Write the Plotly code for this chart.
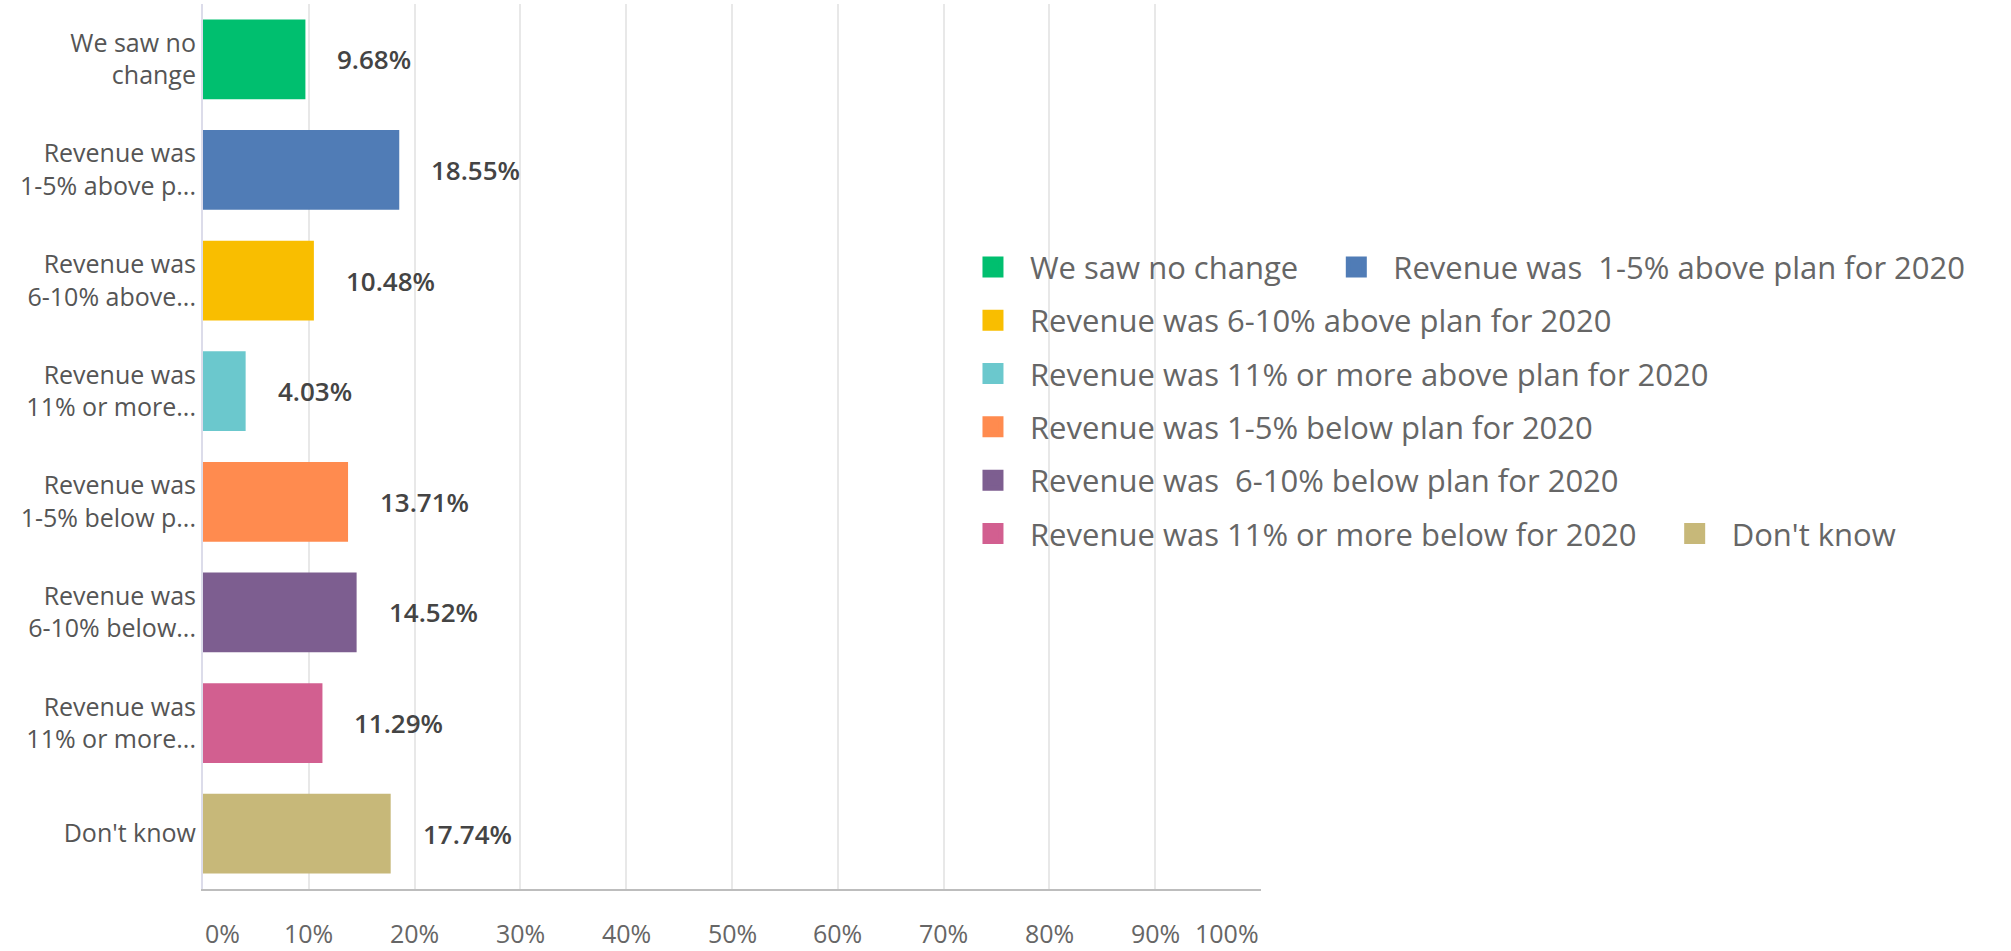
import plotly.graph_objects as go

# Survey answers, percentages and the palette used for each answer
categories = [
    "We saw no change",
    "Revenue was  1-5% above plan for 2020",
    "Revenue was 6-10% above plan for 2020",
    "Revenue was 11% or more above plan for 2020",
    "Revenue was 1-5% below plan for 2020",
    "Revenue was  6-10% below plan for 2020",
    "Revenue was 11% or more below for 2020",
    "Don't know",
]
axis_labels = [
    "We saw no<br>change",
    "Revenue was<br>1-5% above p...",
    "Revenue was<br>6-10% above...",
    "Revenue was<br>11% or more...",
    "Revenue was<br>1-5% below p...",
    "Revenue was<br>6-10% below...",
    "Revenue was<br>11% or more...",
    "Don't know",
]
values = [9.68, 18.55, 10.48, 4.03, 13.71, 14.52, 11.29, 17.74]
colors = ["#00BF6F", "#507CB6", "#F9BE00", "#6BC8CD",
          "#FF8B4F", "#7D5E90", "#D25F90", "#C7B879"]
x_ticks = [0, 10, 20, 30, 40, 50, 60, 70, 80, 90, 100]

FONT = "Open Sans"
positions = list(range(len(categories)))
LEGEND_PAD = "\u00a0" * 2  # breathing room between entries sharing a row

fig = go.Figure()

# one bar per answer
for i, (cat, val, col) in enumerate(zip(categories, values, colors)):
    fig.add_trace(go.Bar(
        x=[val], y=[positions[i]], orientation="h",
        marker=dict(color=col, line=dict(width=0)),
        width=0.72, name=cat, showlegend=False,
        hoverinfo="x+name",
    ))

# legend entries: square swatches, each in its own group so rows flow
for i, (cat, col) in enumerate(zip(categories, colors)):
    fig.add_trace(go.Scatter(
        x=[None], y=[None], mode="markers", name=cat + LEGEND_PAD,
        legendgroup=f"g{i}",
        marker=dict(symbol="square", size=16, color=col,
                    line=dict(color=col, width=5)),
    ))

annotations = []
# value labels to the right of each bar
for i, val in enumerate(values):
    annotations.append(dict(
        x=val, y=positions[i], xref="x", yref="y",
        text=f"{val:.2f}%", showarrow=False,
        xanchor="left", yanchor="middle", xshift=30,
        font=dict(family=FONT, size=26, color="#444444", weight=600),
    ))

# percentage tick labels, the end ones kept inside the plot width
for t in x_ticks:
    anchor = "left" if t == x_ticks[0] else ("right" if t == x_ticks[-1] else "center")
    annotations.append(dict(
        x=t, y=0, xref="x", yref="paper", text=f"{t}%",
        showarrow=False, xanchor=anchor, yanchor="middle", yshift=-44,
        font=dict(family=FONT, size=25, color="#666666"),
    ))

fig.update_layout(
    width=2011, height=951,
    margin=dict(l=203, r=750, t=4, b=62, pad=0),
    paper_bgcolor="white", plot_bgcolor="white",
    bargap=0.28,
    font=dict(family=FONT, color="#555555"),
    annotations=annotations,
    showlegend=True,
    legend=dict(
        orientation="h", traceorder="grouped",
        x=0.7117, y=0.733, xanchor="left", yanchor="top",
        xref="paper", yref="paper",
        font=dict(family=FONT, size=31, color="#666666"),
        tracegroupgap=10, itemwidth=64, itemsizing="trace",
        bgcolor="rgba(255,255,255,0)",
    ),
    xaxis=dict(
        range=[0, 100], tickvals=x_ticks, showticklabels=False,
        showgrid=True, gridcolor="#e8e8e8", gridwidth=2,
        zeroline=False, showline=True, linecolor="#bdbdbd", linewidth=2,
        ticks="", fixedrange=True,
    ),
    yaxis=dict(
        range=[len(categories) - 0.5, -0.5],
        tickvals=positions, ticktext=axis_labels,
        tickfont=dict(family=FONT, size=25, color="#555555"),
        showgrid=False, zeroline=False,
        showline=True, linecolor="#dcdcea", linewidth=2,
        ticks="", ticklabelstandoff=0, fixedrange=True,
    ),
)

fig.write_html("out.html")
